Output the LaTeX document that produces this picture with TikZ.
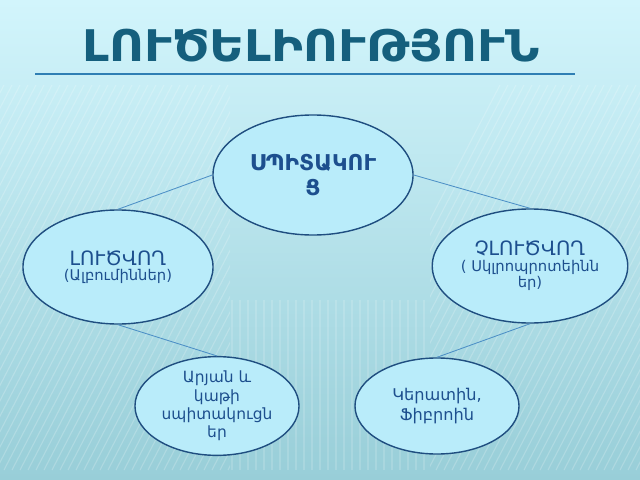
\documentclass[tikz,border=0pt]{standalone}
\usepackage{fontspec}
\setmainfont{DejaVu Sans}
\usetikzlibrary{shapes.geometric}
\definecolor{bgtop}{HTML}{D2F5FC}
\definecolor{bgmid}{HTML}{C4EEF7}
\definecolor{bgbot}{HTML}{98CED8}
\definecolor{bubblefill}{HTML}{B9ECFA}
\definecolor{bubbleline}{HTML}{1F4E80}
\definecolor{inktext}{HTML}{1D4F8E}
\definecolor{titleink}{HTML}{155F7D}
\definecolor{rulecol}{HTML}{2F7FB4}
\definecolor{linkcol}{HTML}{4C8FC6}
\newcommand{\bigline}{\fontsize{14}{17}\selectfont}
\newcommand{\smallline}{\fontsize{10.5}{13}\selectfont}

\begin{document}
\begin{tikzpicture}[x=0.025cm, y=-0.025cm,
	bubble/.style={ellipse, draw=bubbleline, line width=1pt, fill=bubblefill, text=inktext, align=center, inner sep=0pt},
	link/.style={draw=linkcol, line width=0.6pt},
	stripe/.style={white, opacity=0.2, line width=0.8pt}]
			%%%%% BACKGROUND %%%%%
			\useasboundingbox (0,0) rectangle (640,480);
			\shade[top color=bgtop, middle color=bgmid, bottom color=bgbot] (0,0) rectangle (640,480);
			
			\begin{scope}
				\clip (0,85) rectangle (230,470);
				\foreach \i in {-300,-292,...,240}
					\draw[stripe] (\i,470) -- (\i+200,85);
			\end{scope}
			\begin{scope}
				\clip (430,85) rectangle (640,470);
				\foreach \i in {300,308,...,840}
					\draw[stripe] (\i,470) -- (\i+200,85);
			\end{scope}
			\begin{scope}
				\clip (230,300) rectangle (430,470);
				\foreach \i in {232,240,...,430}
					\draw[stripe, opacity=0.15] (\i,300) -- (\i,470);
			\end{scope}
			
			%%%%% TITLE %%%%%
			\node[text=titleink, font=\bfseries\fontsize{31}{31}\selectfont, inner sep=0pt] (heading) at (311,46) {\scalebox{1.1}[1]{ԼՈՒԾԵԼԻՈՒԹՅՈՒՆ}};
			\draw[rulecol, line width=0.9pt] (35,74) -- (575,74);
			
			%%%%% BUBBLES %%%%%
			\node[bubble, minimum width=5cm, minimum height=3cm, font=\bfseries\fontsize{15.5}{18}\selectfont] (protein) at (313,175) {ՍՊԻՏԱԿՈՒ\\Ց};
			
			\node[bubble, minimum width=4.75cm, minimum height=2.85cm] (soluble) at (118,267)
				{\bigline ԼՈՒԾՎՈՂ\\[-1pt]\smallline (Ալբումիններ)};
			\node[bubble, minimum width=4.8cm, minimum height=2.85cm] (insoluble) at (530,266)
				{\bigline ՉԼՈՒԾՎՈՂ\\[-1pt]\smallline ( Սկլրոպրոտեինն\\\smallline եր)};
			
			\node[bubble, minimum width=4.1cm, minimum height=2.4cm, font=\fontsize{11}{13}\selectfont] (blood) at (217,406) {Արյան և\\կաթի\\սպիտակուցն\\եր};
			\node[bubble, minimum width=4.1cm, minimum height=2.4cm, font=\fontsize{11.5}{14}\selectfont] (keratin) at (437,406) {Կերատին,\\Ֆիբրոին};
			
			%%%%% LINKS %%%%%
			\draw[link] (protein.west) -- (soluble.north);
			\draw[link] (protein.east) -- (insoluble.north);
			\draw[link] (soluble.south) -- (blood.north);
			\draw[link] (insoluble.south) -- (keratin.north);
			
			%%%%% END %%%%%
\end{tikzpicture}
\end{document}
